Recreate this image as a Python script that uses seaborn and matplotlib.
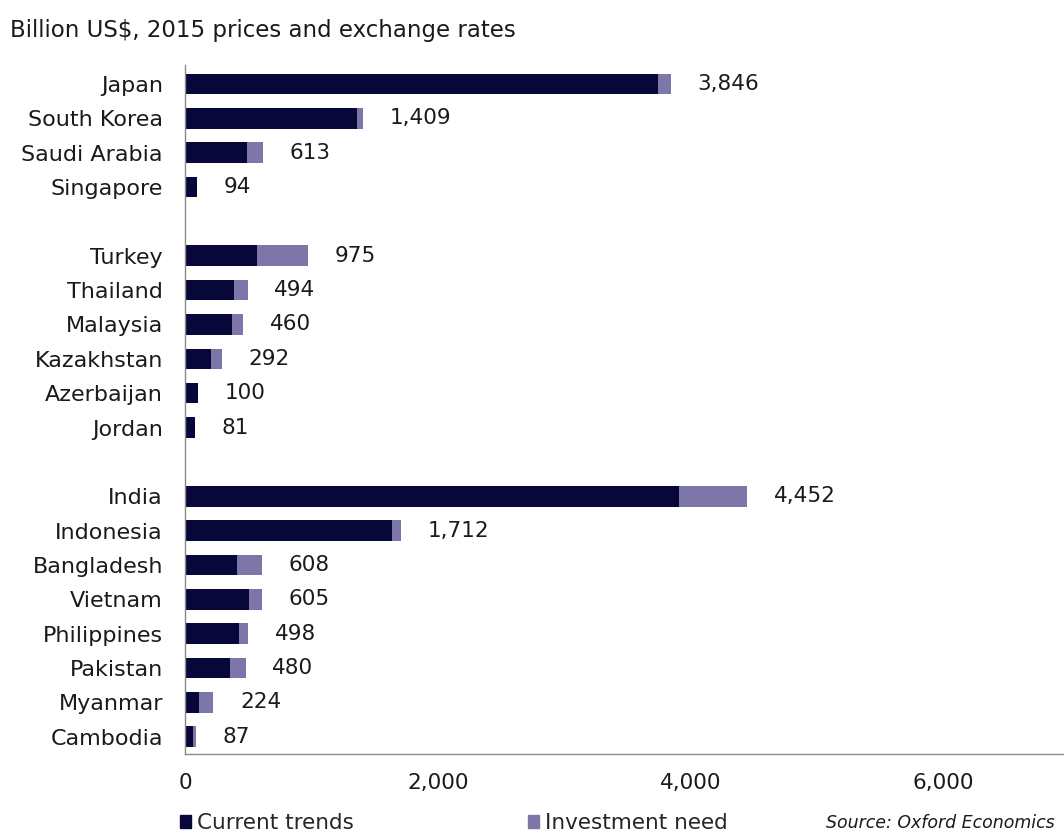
import matplotlib
matplotlib.use("Agg")
import matplotlib.pyplot as plt
from matplotlib.patches import Patch
from matplotlib.ticker import FuncFormatter
import seaborn as sns
import pandas as pd

# Countries grouped into three blocks; spacer rows separate the blocks
countries = ["Japan", "South Korea", "Saudi Arabia", "Singapore",
             "Turkey", "Thailand", "Malaysia", "Kazakhstan", "Azerbaijan", "Jordan",
             "India", "Indonesia", "Bangladesh", "Vietnam", "Philippines", "Pakistan",
             "Myanmar", "Cambodia"]
current_trends = [3745, 1362, 491, 94,
                  570, 388, 372, 206, 100, 81,
                  3911, 1639, 412, 507, 427, 356,
                  111, 63]
total_need = [3846, 1409, 613, 94,
              975, 494, 460, 292, 100, 81,
              4452, 1712, 608, 605, 498, 480,
              224, 87]
x_ticks = [0, 2000, 4000, 6000]

order = countries[:4] + [" "] + countries[4:10] + ["  "] + countries[10:]

df = pd.DataFrame({"country": countries, "current": current_trends, "total": total_need})

DARK = "#07073a"
LIGHT = "#7c77a8"
TXT = "#1a1a1a"
FS = 15.5

sns.set_theme(style="white")
plt.rcParams["font.family"] = ["DejaVu Sans"]

fig = plt.figure(figsize=(10.64, 8.34), dpi=100)
ax = fig.add_axes([0.174, 0.096, 0.826, 0.826])

sns.barplot(data=df, x="total", y="country", order=order, orient="h",
            color=LIGHT, saturation=1, width=0.6, linewidth=0, edgecolor="none", ax=ax)
sns.barplot(data=df, x="current", y="country", order=order, orient="h",
            color=DARK, saturation=1, width=0.6, linewidth=0, edgecolor="none", ax=ax)

# Total value labels to the right of each bar
for name, tot in zip(countries, total_need):
    ax.text(tot + 210, order.index(name), f"{tot:,}", va="center", ha="left",
            fontsize=FS, color=TXT)

ax.set_xlim(0, 6960)
ax.set_ylim(19.5, -0.55)
ax.set_xticks(x_ticks)
ax.xaxis.set_major_formatter(FuncFormatter(lambda v, p: f"{int(v):,}"))
ax.set_xlabel("")
ax.set_ylabel("")
ax.tick_params(axis="x", direction="in", length=3, color="#bbbbbb",
               labelsize=FS, pad=14, labelcolor=TXT)
ax.tick_params(axis="y", length=0, labelsize=16, pad=16, labelcolor=TXT)

for side in ["top", "right"]:
    ax.spines[side].set_visible(False)
for side in ["left", "bottom"]:
    ax.spines[side].set_color("#8a8a8a")
    ax.spines[side].set_linewidth(1.0)

fig.text(0.009, 0.963, "Billion US$, 2015 prices and exchange rates",
         fontsize=16.5, color=TXT, va="center")

leg_kw = dict(loc="center left", frameon=False, fontsize=FS, handlelength=0.5,
              handleheight=0.5, handletextpad=0.3, borderpad=0, borderaxespad=0)
fig.legend(handles=[Patch(color=DARK, label="Current trends")],
           bbox_to_anchor=(0.169, 0.013), **leg_kw)
fig.legend(handles=[Patch(color=LIGHT, label="Investment need")],
           bbox_to_anchor=(0.496, 0.013), **leg_kw)

fig.text(0.776, 0.013, "Source: Oxford Economics", fontsize=12.5, style="italic",
         color=TXT, va="center")

fig.savefig("out.png", dpi=100, facecolor="white")
